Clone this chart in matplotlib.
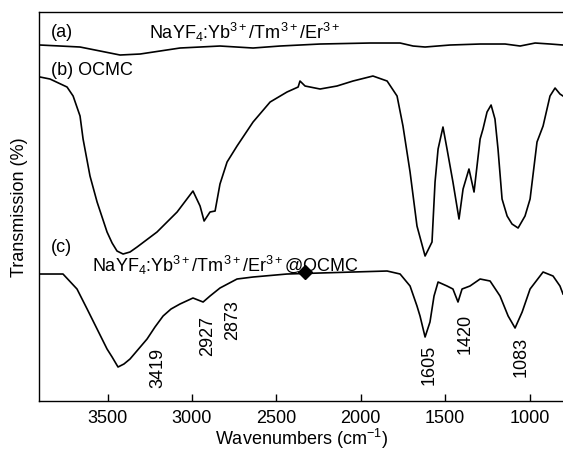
import matplotlib
matplotlib.use("Agg")
import matplotlib.pyplot as plt

plt.rcParams["font.family"] = ["Liberation Sans", "DejaVu Sans"]
plt.rcParams["mathtext.fontset"] = "custom"
plt.rcParams["mathtext.rm"] = "Liberation Sans"
plt.rcParams["mathtext.it"] = "Liberation Sans:italic"

# (a) NaYF4:Yb/Tm/Er
wn_a = [3900, 3781, 3663, 3544, 3426, 3307, 3189, 3071, 2952, 2834, 2638, 2478,
        2241, 1945, 1767, 1690, 1619, 1471, 1293, 1145, 1056, 967, 878, 802]
tr_a = [356, 355, 354, 350, 346, 347, 350, 353, 354, 355, 353, 355,
        357, 358, 358, 355, 354, 356, 357, 357, 355, 358, 357, 356]

# (b) OCMC
wn_b = [3900, 3841, 3740, 3704, 3663, 3645, 3604, 3562, 3503, 3473, 3444, 3408,
        3367, 3325, 3207, 3088, 2994, 2952, 2928, 2893, 2863, 2834, 2792, 2733,
        2638, 2537, 2437, 2371, 2360, 2330, 2241, 2141, 2046, 1928, 1844, 1785,
        1750, 1708, 1667, 1619, 1578, 1560, 1542, 1513, 1489, 1454, 1418, 1394,
        1359, 1329, 1293, 1276, 1252, 1228, 1205, 1187, 1163, 1133, 1104, 1068,
        1027, 997, 956, 920, 879, 849, 820, 802]
tr_b = [324, 322, 314, 305, 285, 262, 225, 199, 169, 158, 150, 147,
        149, 154, 169, 189, 210, 195, 180, 189, 190, 217, 239, 255,
        279, 299, 309, 314, 320, 315, 312, 315, 320, 325, 320, 305,
        275, 229, 175, 145, 159, 219, 252, 274, 252, 219, 182, 212,
        232, 209, 262, 272, 289, 296, 282, 252, 202, 185, 177, 173,
        185, 202, 259, 275, 305, 313, 307, 305]

# (c) NaYF4:Yb/Tm/Er@OCMC
wn_c = [3900, 3764, 3681, 3621, 3562, 3503, 3473, 3438, 3403, 3367, 3266, 3219,
        3171, 3124, 3071, 2994, 2934, 2893, 2834, 2733, 2638, 2437, 2241, 2046,
        1844, 1767, 1708, 1667, 1649, 1619, 1590, 1566, 1542, 1489, 1454, 1424,
        1400, 1353, 1293, 1234, 1175, 1127, 1086, 1044, 997, 920, 861, 820, 802]
tr_c = [127, 127, 112, 92, 72, 52, 44, 34, 37, 42, 62, 74,
        85, 92, 97, 103, 99, 105, 113, 122, 124, 127, 128, 129,
        130, 127, 115, 95, 85, 64, 79, 105, 119, 115, 112, 99,
        112, 115, 122, 120, 105, 85, 73, 89, 112, 129, 125, 115, 107]

peak_labels = ["3419", "2927", "2873", "1605", "1420", "1083"]
peak_x = [3200, 2905, 2760, 1595, 1380, 1050]
peak_y = [34, 66, 82, 37, 68, 45]

fig = plt.figure(figsize=(5.63, 4.52), dpi=100)
ax = fig.add_axes([0.0693, 0.1106, 0.9307, 0.8606])

ax.plot(wn_a, tr_a, color="black", lw=1.2)
ax.plot(wn_b, tr_b, color="black", lw=1.2)
ax.plot(wn_c, tr_c, color="black", lw=1.2)
ax.plot([2330], [129], marker="D", color="black", ms=7)

ax.set_xlim(3906, 802)
ax.set_ylim(0, 389)
ax.set_xticks([3500, 3000, 2500, 2000, 1500, 1000])
ax.set_yticks([])
ax.tick_params(axis="x", direction="in", length=5, width=1, labelsize=13, pad=6)
ax.spines["right"].set_visible(False)
for s in ["left", "bottom", "top"]:
    ax.spines[s].set_linewidth(1.0)

ax.set_xlabel("Wavenumbers (cm$^{-1}$)", fontsize=13, labelpad=0)
ax.set_ylabel("Transmission (%)", fontsize=13, labelpad=8)

ax.text(3835, 370, "(a)", fontsize=13, va="center")
ax.text(3255, 370, r"NaYF$_4$:Yb$^{3+}$/Tm$^{3+}$/Er$^{3+}$", fontsize=13, va="center")
ax.text(3835, 332, "(b) OCMC", fontsize=13, va="center")
ax.text(3835, 155, "(c)", fontsize=13, va="center")
ax.text(3592, 137, r"NaYF$_4$:Yb$^{3+}$/Tm$^{3+}$/Er$^{3+}$@OCMC", fontsize=13, va="center")

for lab, px, py in zip(peak_labels, peak_x, peak_y):
    ax.text(px, py, lab, fontsize=13, rotation=90, ha="center", va="center")

fig.savefig("out.png", dpi=100)
